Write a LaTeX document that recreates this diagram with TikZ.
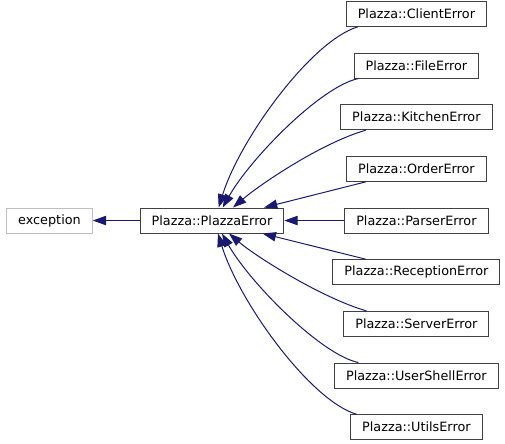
\documentclass[tikz,border=0pt]{standalone}
\usepackage{fontspec}
\setmainfont{DejaVu Sans}
\usepackage{xcolor}
\usepackage{tikz}
\usetikzlibrary{positioning,arrows.meta}
\definecolor{cazul}{HTML}{191970}
\definecolor{cborde}{HTML}{404040}
\definecolor{cgris}{HTML}{BFBFBF}
\tikzset{
  caja/.style={rectangle, draw=cborde, fill=white, line width=0.75pt,
    inner xsep=8.6pt, inner ysep=2pt, minimum height=18.75pt,
    font=\fontsize{9.6pt}{11pt}\selectfont},
  cajag/.style={caja, draw=cgris},
  flecha/.style={-{Triangle[length=10pt,width=7pt]}, line width=0.75pt, draw=cazul},
}

\begin{document}
\begin{tikzpicture}[node distance=19.25pt]
  \useasboundingbox (-159pt,-166.9pt) rectangle (219.75pt,165.4pt);
  \node[caja] (plazza) at (0,0) {Plazza::PlazzaError};
  \node[cajag, left=35.25pt of plazza] (exc) {exception};
  \node[caja, right=45pt of plazza] (parser) {Plazza::ParserError};
  \node[caja, above=of parser] (order) {Plazza::OrderError};
  \node[caja, above=of order] (kitchen) {Plazza::KitchenError};
  \node[caja, above=of kitchen] (file) {Plazza::FileError};
  \node[caja, above=of file] (client) {Plazza::ClientError};
  \node[caja, below=of parser] (reception) {Plazza::ReceptionError};
  \node[caja, below=of reception] (server) {Plazza::ServerError};
  \node[caja, below=of server] (usershell) {Plazza::UserShellError};
  \node[caja, below=of usershell] (utils) {Plazza::UtilsError};
  % herencia
  \draw[flecha] (plazza) -- (exc);
  \draw[flecha] ([xshift=-44pt]client.south) .. controls +(-35pt,-10.5pt) and +(15.75pt,51pt) .. ([xshift=5pt]plazza.north);
  \draw[flecha] ([xshift=-43.5pt]file.south) .. controls +(-28.5pt,-6pt) and +(20.25pt,36pt) .. ([xshift=8pt]plazza.north);
  \draw[flecha] ([xshift=-38pt]kitchen.south) .. controls +(-33.75pt,-9.75pt) and +(20.25pt,17.25pt) .. ([xshift=15.75pt]plazza.north);
  \draw[flecha] ([xshift=-38pt]order.south) -- ([xshift=39pt]plazza.north);
  \draw[flecha] (parser) -- (plazza);
  \draw[flecha] ([xshift=-38pt]reception.north) -- ([xshift=38pt]plazza.south);
  \draw[flecha] ([xshift=-37.5pt]server.north) .. controls +(-33.75pt,9.75pt) and +(20.25pt,-17.25pt) .. ([xshift=12.75pt]plazza.south);
  \draw[flecha] ([xshift=-43.5pt]usershell.north) .. controls +(-28.5pt,6pt) and +(20.25pt,-36pt) .. ([xshift=7.5pt]plazza.south);
  \draw[flecha] ([xshift=-45pt]utils.north) .. controls +(-35pt,10.5pt) and +(15.75pt,-51pt) .. ([xshift=4.5pt]plazza.south);
\end{tikzpicture}
\end{document}
